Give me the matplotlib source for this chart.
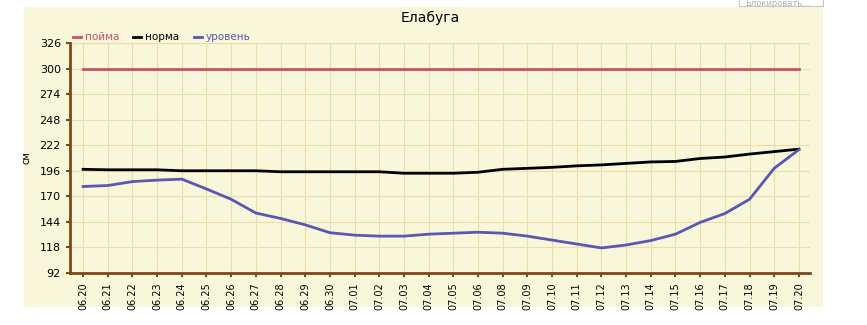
import matplotlib.pyplot as plt
from matplotlib.patches import Rectangle

# даты (07.07 в данных отсутствует)
dates = ['06.20', '06.21', '06.22', '06.23', '06.24', '06.25', '06.26', '06.27',
         '06.28', '06.29', '06.30', '07.01', '07.02', '07.03', '07.04', '07.05',
         '07.06', '07.08', '07.09', '07.10', '07.11', '07.12', '07.13', '07.14',
         '07.15', '07.16', '07.17', '07.18', '07.19', '07.20']

poyma = [300] * len(dates)
norma = [197.5, 197, 197, 197, 196, 196, 196, 196, 195, 195, 195, 195, 195, 193.5, 193.5,
         193.5, 194.5, 197.5, 198.5, 199.5, 201, 202, 203.5, 205, 205.5, 208.5, 210, 213,
         215.5, 218]
uroven = [180, 181, 185, 186.5, 187.5, 177.5, 167, 153, 147.5, 141, 133, 130.5, 129.5,
          129.5, 131.5, 132.5, 133.5, 132.5, 129.5, 125.5, 121.5, 117.5, 120.5, 125, 131.5,
          143.5, 152.5, 167, 198.5, 217.5]

yticks = [92, 118, 144, 170, 196, 222, 248, 274, 300, 326]

bg = '#f9f7da'
grid_c = '#f0dcaa'
axis_c = '#7b4a1c'
red = '#c8506a'
blue = '#5a56b4'

fig = plt.figure(figsize=(8.67, 3.25), dpi=100)
fig.patch.set_facecolor('white')
# фон панели
fig.add_artist(Rectangle((24 / 867, 1 - 307 / 325), 799 / 867, 300 / 325,
                         transform=fig.transFigure, facecolor=bg, edgecolor='none', zorder=-5))

ax = fig.add_axes([70 / 867, 1 - 273 / 325, 740 / 867, 230 / 325])
ax.set_facecolor(bg)
x = list(range(len(dates)))

ax.plot(x, poyma, color=red, lw=2)
ax.plot(x, norma, color='black', lw=2)
ax.plot(x, uroven, color=blue, lw=2)

ax.set_xlim(-0.53, len(dates) - 1 + 0.45)
ax.set_ylim(92, 326)
ax.set_yticks(yticks)
ax.set_xticks(x)
ax.set_xticklabels(dates, rotation=90, fontsize=7)
ax.tick_params(axis='y', labelsize=8, colors=axis_c, labelcolor='black', length=3, width=1.5)
ax.tick_params(axis='x', colors=axis_c, labelcolor='black', length=3, width=1.5)
ax.grid(True, color=grid_c, lw=0.8)
ax.set_axisbelow(True)
for s in ['top', 'right']:
    ax.spines[s].set_visible(False)
for s in ['left', 'bottom']:
    ax.spines[s].set_color(axis_c)
    ax.spines[s].set_linewidth(2)
ax.set_ylabel('см', fontsize=7, labelpad=6)

fig.text(430 / 867, 1 - 18 / 325, 'Елабуга', ha='center', va='center', fontsize=10)

# легенда
legend_items = [('пойма', red, 73), ('норма', 'black', 133), ('уровень', blue, 194)]
for name, col, px in legend_items:
    fig.add_artist(plt.Line2D([px / 867, (px + 8) / 867], [1 - 37 / 325] * 2,
                              color=col, lw=2, transform=fig.transFigure))
    fig.text((px + 12) / 867, 1 - 37 / 325, name, color=col, fontsize=7.5, va='center')

# кнопка браузера в углу
fig.add_artist(Rectangle((739 / 867, 1 - 6 / 325), 84 / 867, 8 / 325, transform=fig.transFigure,
                         facecolor='white', edgecolor='#c8c8c8', lw=0.8, zorder=1))
fig.text(745 / 867, 1 - 3 / 325, 'Блокировать...', color='#b0b0b0', fontsize=6, va='center')

fig.savefig('out.png', dpi=100)
